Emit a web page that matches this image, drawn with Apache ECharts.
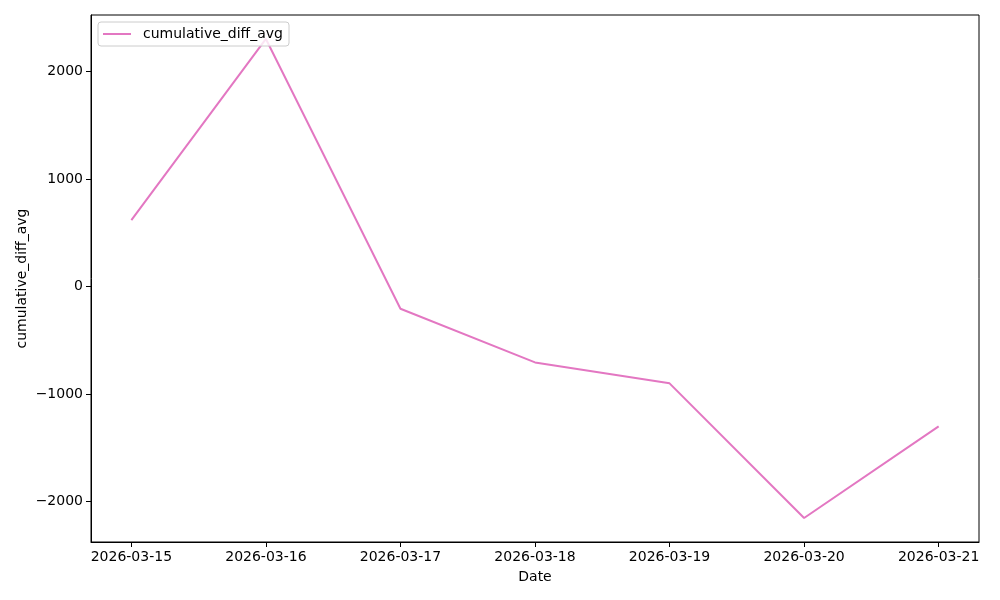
<!DOCTYPE html>
<html>
<head>
<meta charset="utf-8">
<script src="https://cdn.jsdelivr.net/npm/echarts@6/dist/echarts.min.js"></script>
<style>html,body{margin:0;padding:0;background:#fff}#c{width:1000px;height:600px}</style>
</head>
<body>
<div id="c"></div>
<script>
const dates = ['2026-03-15','2026-03-16','2026-03-17','2026-03-18','2026-03-19','2026-03-20','2026-03-21'];
const values = [619, 2305, -205, -704, -899, -2152, -1299];
const yTicks = [-2000, -1000, 0, 1000, 2000];
const seriesName = 'cumulative_diff_avg';

const xIdx = dates.map((d, i) => i);
const data = values.map((v, i) => [i, v]);
const vmin = Math.min(...values), vmax = Math.max(...values);
const pad = (vmax - vmin) * 0.05;
const font = 'DejaVu Sans';

const chart = echarts.init(document.getElementById('c'), null, {renderer: 'canvas'});
chart.setOption({
  animation: false,
  backgroundColor: '#fff',
  grid: {left: 91, right: 21, top: 15, bottom: 58, show: true, borderColor: '#000', borderWidth: 1, containLabel: false},
  legend: {
    left: 98, top: 22,
    padding: [5, 6, 5, 5],
    backgroundColor: 'rgba(255,255,255,0.8)',
    borderColor: '#cccccc', borderWidth: 1, borderRadius: 3,
    icon: 'rect', itemWidth: 28, itemHeight: 2,
    textStyle: {fontFamily: font, fontSize: 14, color: '#000', padding: [0, 0, 0, 7]},
    data: [seriesName]
  },
  xAxis: {
    type: 'value',
    min: -0.3, max: dates.length - 1 + 0.3,
    name: 'Date', nameLocation: 'middle', nameGap: 28, nameMoveOverlap: false,
    nameTextStyle: {fontFamily: font, fontSize: 14, color: '#000'},
    axisLine: {show: true, onZero: false, lineStyle: {color: '#000', width: 1}},
    axisTick: {show: true, inside: false, length: 5, lineStyle: {color: '#000'}, customValues: xIdx},
    axisLabel: {fontFamily: font, fontSize: 14, color: '#000', margin: 8, customValues: xIdx,
      formatter: v => dates[Math.round(v)] || ''},
    splitLine: {show: false}
  },
  yAxis: {
    type: 'value',
    min: vmin - pad, max: vmax + pad,
    name: seriesName, nameLocation: 'middle', nameGap: 62, nameMoveOverlap: false,
    nameTextStyle: {fontFamily: font, fontSize: 14, color: '#000'},
    axisLine: {show: true, onZero: false, lineStyle: {color: '#000', width: 1}},
    axisTick: {show: true, inside: false, length: 5, lineStyle: {color: '#000'}, customValues: yTicks},
    axisLabel: {fontFamily: font, fontSize: 14, color: '#000', margin: 8, customValues: yTicks,
      formatter: v => (v < 0 ? '\u2212' + Math.abs(v) : String(v))},
    splitLine: {show: false}
  },
  series: [{
    name: seriesName,
    type: 'line',
    data: data,
    showSymbol: false,
    symbol: 'none',
    color: '#e377c2',
    lineStyle: {color: '#e377c2', width: 2},
    z: 1
  }]
});
</script>
</body>
</html>
